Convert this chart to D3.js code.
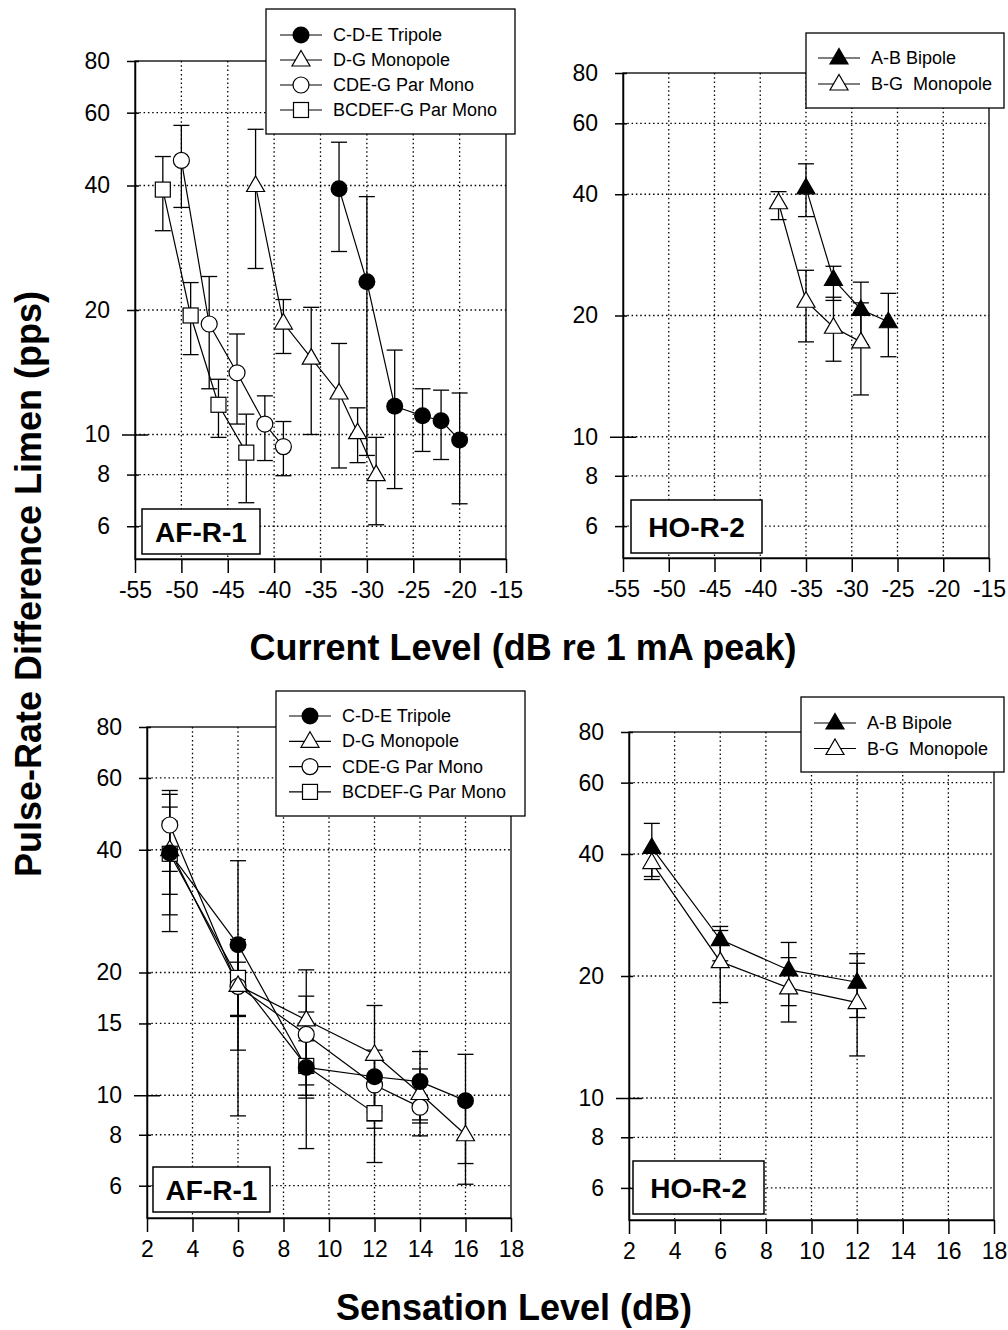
<!DOCTYPE html>
<html>
<head>
<meta charset="utf-8">
<script src="https://cdn.jsdelivr.net/npm/d3@7"></script>
<style>
  body { margin: 0; background: #fff; }
  svg { font-family: "Liberation Sans", Arial, Helvetica, sans-serif; }
</style>
</head>
<body>
<svg id="fig"></svg>
<script>
// ---- AF-R-1 ----
// C-D-E Tripole
const tripoleLevel = [-33, -30, -27, -24, -22, -20];
const tripoleSL    = [3, 6, 9, 12, 14, 16];
const tripoleMean  = [39.3, 23.4, 11.7, 11.1, 10.8, 9.7];
const tripoleLow   = [27.7, 8.9, 7.4, 9.1, 8.7, 6.8];
const tripoleHigh  = [50.9, 37.6, 16.0, 12.9, 12.8, 12.6];
// D-G Monopole
const dgLevel = [-42, -39, -36, -33, -31, -29];
const dgSL    = [3, 6, 9, 12, 14, 16];
const dgMean  = [40.0, 18.6, 15.3, 12.6, 10.1, 8.0];
const dgLow   = [25.2, 15.7, 10.0, 8.3, 8.55, 6.05];
const dgHigh  = [54.7, 21.2, 20.3, 16.6, 11.6, 9.84];
// CDE-G Par Mono
const cdeLevel = [-50, -47, -44, -41, -39];
const cdeSL    = [3, 6, 9, 12, 14];
const cdeMean  = [46.0, 18.5, 14.1, 10.6, 9.35];
const cdeLow   = [35.4, 12.9, 10.6, 8.65, 7.95];
const cdeHigh  = [55.9, 24.1, 17.5, 12.4, 10.75];
// BCDEF-G Par Mono
const bcdefLevel = [-52, -49, -46, -43];
const bcdefSL    = [3, 6, 9, 12];
const bcdefMean  = [39.1, 19.4, 11.8, 9.04];
const bcdefLow   = [31.1, 15.6, 9.84, 6.84];
const bcdefHigh  = [47.0, 23.3, 13.6, 11.2];

// ---- HO-R-2 ----
// A-B Bipole
const bipoleLevel = [-35, -32, -29, -26];
const bipoleSL    = [3, 6, 9, 12];
const bipoleMean  = [41.5, 24.6, 20.7, 19.3];
const bipoleLow   = [35.2, 21.8, 16.9, 15.8];
const bipoleHigh  = [47.6, 26.5, 24.2, 22.7];
// B-G Monopole
const bgLevel = [-38, -35, -32, -29];
const bgSL    = [3, 6, 9, 12];
const bgMean  = [38.1, 21.7, 18.7, 17.2];
const bgLow   = [34.6, 17.2, 15.4, 12.7];
const bgHigh  = [40.6, 25.9, 22.2, 21.5];

// ticks
const levelTicks = [-55, -50, -45, -40, -35, -30, -25, -20, -15];
const slTicks = [2, 4, 6, 8, 10, 12, 14, 16, 18];
const yTicksTop = [6, 8, 10, 20, 40, 60, 80];
const yTicksBottom = [6, 8, 10, 15, 20, 40, 60, 80];
const yDomain = [5, 80];

const FONT = '"Liberation Sans", Arial, Helvetica, sans-serif';

function makeSeries(name, symbol, level, sl, mean, lo, hi) {
  return {
    name: name, symbol: symbol,
    pts: mean.map((m, i) => ({ level: level[i], sl: sl[i], mean: m, lo: lo[i], hi: hi[i] }))
  };
}

const afSeries = [
  makeSeries('C-D-E Tripole', 'dot', tripoleLevel, tripoleSL, tripoleMean, tripoleLow, tripoleHigh),
  makeSeries('D-G Monopole', 'tri', dgLevel, dgSL, dgMean, dgLow, dgHigh),
  makeSeries('CDE-G Par Mono', 'circle', cdeLevel, cdeSL, cdeMean, cdeLow, cdeHigh),
  makeSeries('BCDEF-G Par Mono', 'square', bcdefLevel, bcdefSL, bcdefMean, bcdefLow, bcdefHigh)
];
const hoSeries = [
  makeSeries('A-B Bipole', 'trifill', bipoleLevel, bipoleSL, bipoleMean, bipoleLow, bipoleHigh),
  makeSeries('B-G  Monopole', 'tri', bgLevel, bgSL, bgMean, bgLow, bgHigh)
];

const svg = d3.select('#fig').attr('width', 1008).attr('height', 1330);
svg.append('rect').attr('width', 1008).attr('height', 1330).attr('fill', '#fff');

class LogPanel {
  constructor(config, series) {
    this.config = config;
    this.series = series;
    this.init();
  }

  init() {
    let self = this;
    let c = self.config;
    self.g = svg.append('g');
    self.x = d3.scaleLinear().domain(c.xDomain).range([c.left, c.right]);
    self.y = d3.scaleLog().domain(yDomain).range([c.bottom, c.top]);
  }

  symbol(g, type, cx, cy) {
    if (type == 'dot') {
      g.append('circle').attr('cx', cx).attr('cy', cy).attr('r', 8.5).attr('fill', '#000');
    } else if (type == 'circle') {
      g.append('circle').attr('cx', cx).attr('cy', cy).attr('r', 8)
        .attr('fill', '#fff').attr('stroke', '#000').attr('stroke-width', 1.2);
    } else if (type == 'square') {
      g.append('rect').attr('x', cx - 7.5).attr('y', cy - 7.5).attr('width', 15).attr('height', 15)
        .attr('fill', '#fff').attr('stroke', '#000').attr('stroke-width', 1.2);
    } else {
      g.append('path').attr('transform', `translate(${cx},${cy})`)
        .attr('d', 'M0,-9.5L9,6L-9,6Z')
        .attr('fill', type == 'trifill' ? '#000' : '#fff')
        .attr('stroke', '#000').attr('stroke-width', 1.2).attr('stroke-linejoin', 'miter');
    }
  }

  render() {
    let self = this;
    let c = self.config;
    let g = self.g;
    let x = self.x, y = self.y;
    let key = c.xKey;

    // dotted grid
    g.append('g').selectAll('line')
      .data(c.xTicks.slice(1, -1))
      .join('line')
      .attr('x1', d => x(d)).attr('x2', d => x(d))
      .attr('y1', c.top).attr('y2', c.bottom)
      .attr('stroke', '#000').attr('stroke-width', 1.3).attr('stroke-dasharray', '1.5,2.8');
    g.append('g').selectAll('line')
      .data(c.yTicks.filter(d => d < 80))
      .join('line')
      .attr('x1', c.left).attr('x2', c.right)
      .attr('y1', d => y(d)).attr('y2', d => y(d))
      .attr('stroke', '#000').attr('stroke-width', 1.3).attr('stroke-dasharray', '1.5,2.8');

    // frame
    g.append('rect')
      .attr('x', c.left).attr('y', c.top)
      .attr('width', c.right - c.left).attr('height', c.bottom - c.top)
      .attr('fill', 'none').attr('stroke', '#000').attr('stroke-width', 1.3);

    // x axis
    let xa = g.append('g')
      .attr('transform', `translate(0,${c.bottom})`)
      .call(d3.axisBottom(x).tickValues(c.xTicks).tickFormat(d => String(d))
        .tickSize(14).tickSizeOuter(0).tickPadding(9))
      .attr('font-family', FONT).attr('font-size', 23);
    xa.select('.domain').attr('stroke-width', 1.5);
    xa.selectAll('.tick line').attr('stroke-width', 1.5);
    xa.selectAll('.tick text').attr('fill', '#000');

    // y axis
    let ya = g.append('g')
      .attr('transform', `translate(${c.left},0)`)
      .call(d3.axisLeft(y).tickValues(c.yTicks).tickFormat(d3.format('d')).tickSizeOuter(0).tickPadding(20))
      .attr('font-family', FONT).attr('font-size', 23);
    ya.select('.domain').attr('stroke-width', 1.5);
    ya.selectAll('.tick line')
      .attr('x1', d => d == 10 ? 13 : 4)
      .attr('x2', d => d == 10 ? -13 : -8)
      .attr('stroke-width', 1.5);
    ya.selectAll('.tick text').attr('x', -25).attr('fill', '#000');

    // connecting lines
    let line = d3.line().x(d => x(d[key])).y(d => y(d.mean));
    g.append('g').selectAll('path')
      .data(self.series)
      .join('path')
      .attr('d', d => line(d.pts))
      .attr('fill', 'none').attr('stroke', '#000').attr('stroke-width', 1.2);

    // error bars
    let allPts = self.series.flatMap(s => s.pts);
    let eb = g.append('g').attr('stroke', '#000').attr('stroke-width', 1.3);
    eb.selectAll('line.v').data(allPts).join('line').attr('class', 'v')
      .attr('x1', d => x(d[key])).attr('x2', d => x(d[key]))
      .attr('y1', d => y(d.lo)).attr('y2', d => y(d.hi));
    eb.selectAll('line.hi').data(allPts).join('line').attr('class', 'hi')
      .attr('x1', d => x(d[key]) - 8).attr('x2', d => x(d[key]) + 8)
      .attr('y1', d => y(d.hi)).attr('y2', d => y(d.hi));
    eb.selectAll('line.lo').data(allPts).join('line').attr('class', 'lo')
      .attr('x1', d => x(d[key]) - 8).attr('x2', d => x(d[key]) + 8)
      .attr('y1', d => y(d.lo)).attr('y2', d => y(d.lo));

    // markers, last series first so the tripole sits on top
    let mk = g.append('g');
    self.series.slice().reverse().forEach(s => {
      s.pts.forEach(p => self.symbol(mk, s.symbol, x(p[key]), y(p.mean)));
    });

    // legend
    let L = c.legend;
    let lg = g.append('g');
    lg.append('rect')
      .attr('x', L.x).attr('y', L.y).attr('width', L.w).attr('height', L.h)
      .attr('fill', '#fff').attr('stroke', '#000').attr('stroke-width', 1.3);
    self.series.forEach((s, i) => {
      let ry = L.row0 + i * L.step;
      lg.append('line')
        .attr('x1', L.lineX).attr('x2', L.lineX + 42)
        .attr('y1', ry).attr('y2', ry)
        .attr('stroke', '#000').attr('stroke-width', 1.2);
      self.symbol(lg, s.symbol, L.lineX + 21, ry);
      lg.append('text')
        .attr('x', L.lineX + 53).attr('y', ry + 6)
        .attr('font-size', 18)
        .style('white-space', 'pre')
        .text(s.name);
    });

    // panel label
    let B = c.label;
    g.append('rect')
      .attr('x', B.x).attr('y', B.y).attr('width', B.w).attr('height', B.h)
      .attr('fill', '#fff').attr('stroke', '#000').attr('stroke-width', 1.5);
    g.append('text')
      .attr('x', B.x + B.w / 2).attr('y', B.y + B.h / 2 + 10)
      .attr('text-anchor', 'middle')
      .attr('font-size', 28).attr('font-weight', 'bold')
      .text(B.text);
  }
}

let panels = [
  new LogPanel({
    left: 135, right: 506, top: 61, bottom: 559,
    xDomain: [-55, -15], xTicks: levelTicks, xKey: 'level', yTicks: yTicksTop,
    legend: { x: 266, y: 9, w: 249, h: 125, row0: 35, step: 25, lineX: 280 },
    label: { x: 142, y: 509, w: 118, h: 45, text: 'AF-R-1' }
  }, afSeries),
  new LogPanel({
    left: 623, right: 989, top: 73, bottom: 558,
    xDomain: [-55, -15], xTicks: levelTicks, xKey: 'level', yTicks: yTicksTop,
    legend: { x: 806, y: 33, w: 198, h: 75, row0: 58, step: 26, lineX: 818 },
    label: { x: 631, y: 500, w: 131, h: 53, text: 'HO-R-2' }
  }, hoSeries),
  new LogPanel({
    left: 147, right: 511, top: 727, bottom: 1218,
    xDomain: [2, 18], xTicks: slTicks, xKey: 'sl', yTicks: yTicksBottom,
    legend: { x: 276, y: 691, w: 249, h: 125, row0: 716, step: 25.3, lineX: 289 },
    label: { x: 153, y: 1167, w: 117, h: 45, text: 'AF-R-1' }
  }, afSeries),
  new LogPanel({
    left: 629, right: 994, top: 732, bottom: 1220,
    xDomain: [2, 18], xTicks: slTicks, xKey: 'sl', yTicks: yTicksTop,
    legend: { x: 801, y: 697, w: 203, h: 75, row0: 723, step: 25.5, lineX: 814 },
    label: { x: 633, y: 1161, w: 131, h: 53, text: 'HO-R-2' }
  }, hoSeries)
];
panels.forEach(p => p.render());

// axis titles
svg.append('text')
  .attr('x', 523).attr('y', 660)
  .attr('text-anchor', 'middle').attr('font-size', 36).attr('font-weight', 'bold')
  .text('Current Level (dB re 1 mA peak)');
svg.append('text')
  .attr('x', 514).attr('y', 1320)
  .attr('text-anchor', 'middle').attr('font-size', 36).attr('font-weight', 'bold')
  .text('Sensation Level (dB)');
svg.append('text')
  .attr('transform', 'translate(41,584) rotate(-90)')
  .attr('text-anchor', 'middle').attr('font-size', 36).attr('font-weight', 'bold')
  .text('Pulse-Rate Difference Limen (pps)');
</script>
</body>
</html>
